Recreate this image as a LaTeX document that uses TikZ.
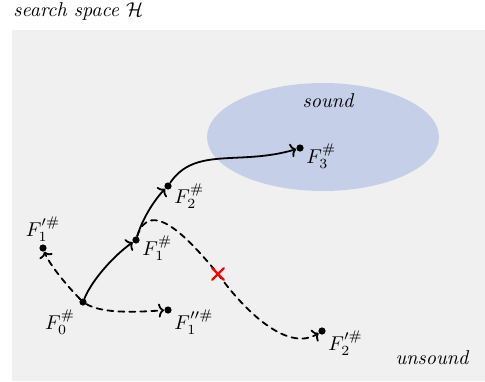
\documentclass[tikz,border=0pt]{standalone}
\usepackage{amsmath}
\usepackage{amssymb}
\usetikzlibrary{arrows.meta,shapes.misc}
\definecolor{spacegray}{RGB}{240,240,240}
\definecolor{soundblue}{RGB}{197,208,232}

\begin{document}
\begin{tikzpicture}[
    x=0.5pt, y=0.5pt, >={To[length=2.8pt,width=7pt]}, line cap=round,
    fdot/.style   ={circle, fill=black, inner sep=0pt, minimum size=3.6pt},
    lbl/.style    ={inner sep=1pt},
    refine/.style ={->, line width=0.9pt},
    guess/.style  ={->, line width=0.9pt, dash pattern=on 3pt off 2.5pt},
    xmark/.style  ={cross out, draw=red, line width=1.2pt, minimum size=4.5pt, inner sep=0pt},
    txt/.style    ={font=\itshape}
]
\useasboundingbox (0,0) rectangle (485,381);
\fill[spacegray] (12,0) rectangle (485,351);
\fill[soundblue] (323,244) ellipse [x radius=116, y radius=54];

\node[txt, anchor=west, inner sep=0pt] (title) at (13,369) {search space $\mathcal{H}$};
\node[txt] (snd) at (328,280) {sound};
\node[txt] (unsnd) at (432,23) {unsound};

% abstract states
\node[fdot, label={[lbl,label distance=2pt]below left:$F_0^{\#}$}] (F0) at (83,79) {};
\node[fdot, label={[lbl,yshift=-4pt]right:$F_1^{\#}$}] (F1) at (136,141) {};
\node[fdot, label={[lbl,yshift=-5pt]right:$F_2^{\#}$}] (F2) at (168,195) {};
\node[fdot, label={[lbl,yshift=-4pt]right:$F_3^{\#}$}] (F3) at (300,233) {};
\node[fdot, label={[lbl]above:$F_1^{\prime\#}$}] (F1a) at (43,133) {};
\node[fdot, label={[lbl,yshift=-6pt]right:$F_1^{\prime\prime\#}$}] (F1b) at (168,71) {};
\node[fdot, label={[lbl,yshift=-6pt]right:$F_2^{\prime\#}$}] (F2a) at (322,50) {};
\coordinate (cut) at (218,107);

% successful refinement
\draw[refine] (F0) .. controls +(10,24) and +(-20,-14) .. (F1);
\draw[refine] (F1) .. controls +(8,26) and +(-10,-10) .. (F2);
\draw[refine] (F2) .. controls +(27,40) and +(-60,-18) .. (F3);

% other attempts
\draw[guess] (F0) .. controls +(-15,15) and +(6,-16) .. (F1a);
\draw[guess] (F0) .. controls +(20,-12) and +(-30,-2) .. (F1b);
\draw[guess] (F1) .. controls +(14,44) and +(-28,34) .. (cut)
                  .. controls +(32,-44) and +(-32,-20) .. (F2a);
\node[xmark] (cutmark) at (cut) {};
\end{tikzpicture}
\end{document}
